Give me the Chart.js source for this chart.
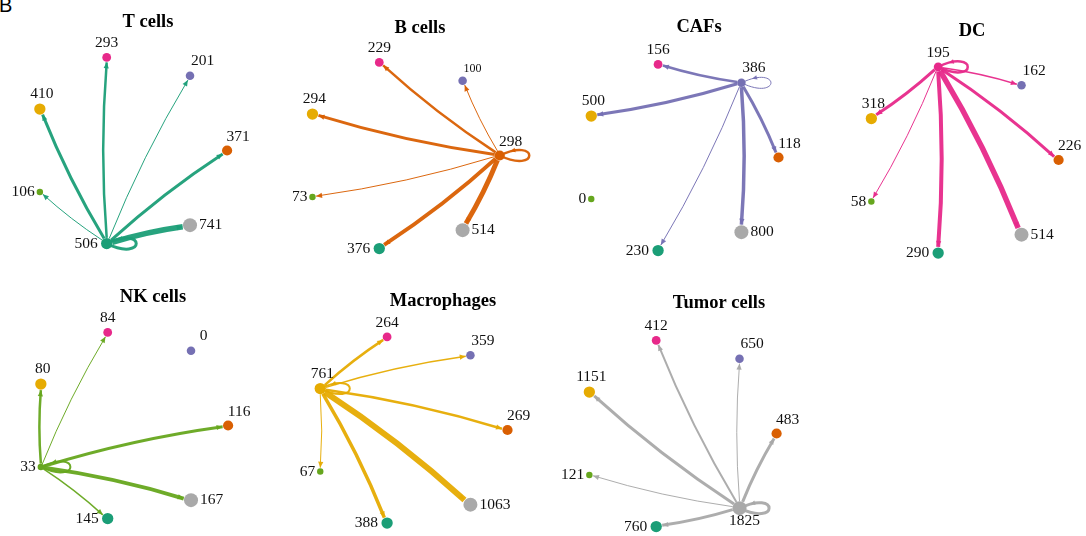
<!DOCTYPE html>
<html>
<head>
<meta charset="utf-8">
<script src="https://cdn.jsdelivr.net/npm/chart.js@4.4.1/dist/chart.umd.min.js"></script>
<style>
  html, body { margin: 0; padding: 0; background: #fff; width: 1086px; height: 536px; overflow: hidden; }
  #fig { position: relative; width: 1086px; height: 536px; overflow: hidden; }
  .panel { position: absolute; }
  .panel canvas { display: block; }
  #tag { position: absolute; left: -1px; top: -5px; font: 20px/1 "Liberation Sans", Arial, sans-serif; color: #000; }
</style>
</head>
<body>
<div id="fig"><div id="tag">B</div></div>
<script>
// Cell groups, in circle order (counter-clockwise from the right)
const cellTypes = ['B cells', 'CAFs', 'DC', 'Macrophages', 'NK cells', 'T cells', 'Tumor cells'];
const typeColors = ['#D95F02', '#7570B3', '#E7298A', '#E6AB02', '#66A61E', '#1B9E77', '#A9A9A9'];
// Relative size of each cell group (sets the node size)
const groupSize = [0.55, 0.35, 0.38, 0.68, 0.10, 0.68, 1.00];

// Panel titles = sending cell group
const panelTitles = ['T cells', 'B cells', 'CAFs', 'DC', 'NK cells', 'Macrophages', 'Tumor cells'];

// Node labels of each panel, in cellTypes order
const labelsT      = [371, 201, 293, 410, 106, 506, 741];
const labelsB      = [298, 100, 229, 294, 73, 376, 514];
const labelsCAFs   = [118, 386, 156, 500, 0, 230, 800];
const labelsDC     = [226, 162, 195, 318, 58, 290, 514];
const labelsNK     = [116, 0, 84, 80, 33, 145, 167];
const labelsMac    = [269, 359, 264, 761, 67, 388, 1063];
const labelsTumor  = [483, 650, 412, 1151, 121, 760, 1825];

// Outgoing interaction strength from the sender to each group (sender's own entry = self loop)
const strengthT     = [3.0, 1.0, 2.5, 3.0, 1.0, 3.0, 5.5];
const strengthB     = [2.5, 1.0, 2.5, 3.0, 1.0, 4.0, 5.0];
const strengthCAFs  = [3.0, 1.0, 2.5, 3.0, 0, 1.0, 3.5];
const strengthDC    = [3.0, 1.5, 2.5, 3.0, 1.0, 4.0, 5.5];
const strengthNK    = [3.0, 0, 1.0, 2.5, 2.0, 1.5, 4.0];
const strengthMac   = [2.5, 1.5, 2.5, 2.0, 1.0, 3.5, 6.0];
const strengthTumor = [3.0, 1.0, 2.0, 3.0, 1.0, 3.0, 3.0];

const panels = [
  { source: 5, labels: labelsT,     strength: strengthT },
  { source: 0, labels: labelsB,     strength: strengthB,    small: [1] },
  { source: 1, labels: labelsCAFs,  strength: strengthCAFs },
  { source: 2, labels: labelsDC,    strength: strengthDC },
  { source: 4, labels: labelsNK,    strength: strengthNK },
  { source: 3, labels: labelsMac,   strength: strengthMac },
  { source: 6, labels: labelsTumor, strength: strengthTumor, below: [6] },
];

// ---- layout / styling ----
const RX = 98.5, RY = 95.5;          // circle radius in px
const PANEL_W = 330;
const TITLE_SIZE = 18.5, TITLE_LH = 1.2;
const CURVE = 0.04;                  // edge bend, as a share of edge length
const panelLayout = [
  { cx: 128.6, cy: 150.5, titleX: 148,   titleY: 22.7,  top: 0,   h: 272 },
  { cx: 401.2, cy: 155.5, titleX: 420,   titleY: 28.7,  top: 0,   h: 272 },
  { cx: 680.0, cy: 157.5, titleX: 699,   titleY: 27.7,  top: 0,   h: 272 },
  { cx: 959.6, cy: 160.0, titleX: 971.5, titleY: 31.0,  top: 0,   h: 272 },
  { cx: 129.6, cy: 425.5, titleX: 153,   titleY: 297.7, top: 272, h: 264 },
  { cx: 409.0, cy: 430.0, titleX: 443,   titleY: 301.7, top: 272, h: 264 },
  { cx: 677.6, cy: 433.5, titleX: 718.5, titleY: 303.3, top: 272, h: 264 },
];
// where each group's number sits relative to its node
const labelPlace = [
  { align: 'center', dx: 11,   dy: -14 },   // B cells
  { align: 'center', dx: 12.5, dy: -14.5 }, // CAFs
  { align: 'center', dx: 0,    dy: -14 },   // DC
  { align: 'center', dx: 2,    dy: -15 },   // Macrophages
  { align: 'right',  dx: -5,   dy: 0 },     // NK cells
  { align: 'right',  dx: -9,   dy: 0 },     // T cells
  { align: 'left',   dx: 9,    dy: 0 },     // Tumor cells
];
const SERIF = '"Liberation Serif", "Times New Roman", serif';
const EDGE_ALPHA = 0.95;

const angle = i => 2 * Math.PI * i / cellTypes.length;
const nodePoints = cellTypes.map((_, i) => ({ x: Math.cos(angle(i)), y: Math.sin(angle(i)) }));
const nodeRadius = groupSize.map(w => 2.8 + 4.2 * w);

function rgba(hex, a) {
  const n = parseInt(hex.slice(1), 16);
  return `rgba(${(n >> 16) & 255},${(n >> 8) & 255},${n & 255},${a})`;
}

function arrowHead(ctx, tip, dir, len, half) {
  const bx = tip.x - dir.x * len, by = tip.y - dir.y * len;
  ctx.beginPath();
  ctx.moveTo(tip.x, tip.y);
  ctx.lineTo(bx - dir.y * half, by + dir.x * half);
  ctx.lineTo(bx + dir.y * half, by - dir.x * half);
  ctx.closePath();
  ctx.fill();
}

function drawEdge(ctx, p0, p2, r0, r1, width, color) {
  const dx = p2.x - p0.x, dy = p2.y - p0.y, L = Math.hypot(dx, dy);
  const ux = dx / L, uy = dy / L;
  const a = { x: p0.x + ux * r0, y: p0.y + uy * r0 };
  const b = { x: p2.x - ux * (r1 + 0.5), y: p2.y - uy * (r1 + 0.5) };
  const ex = b.x - a.x, ey = b.y - a.y;
  const c = { x: (a.x + b.x) / 2 + CURVE * ey, y: (a.y + b.y) / 2 - CURVE * ex };
  ctx.strokeStyle = color;
  ctx.fillStyle = color;
  ctx.lineWidth = width;
  ctx.lineCap = 'butt';
  ctx.beginPath();
  ctx.moveTo(a.x, a.y);
  ctx.quadraticCurveTo(c.x, c.y, b.x, b.y);
  ctx.stroke();
  const dl = Math.hypot(b.x - c.x, b.y - c.y);
  arrowHead(ctx, b, { x: (b.x - c.x) / dl, y: (b.y - c.y) / dl }, 6, 2.6);
}

function drawLoop(ctx, p, rx, ry, r, width, color) {
  const P1 = { x: p.x + 0.4 * rx, y: p.y + 0.2 * ry };
  const P2 = { x: p.x + 0.4 * rx, y: p.y - 0.2 * ry };
  ctx.strokeStyle = color;
  ctx.fillStyle = color;
  ctx.lineWidth = width;
  ctx.beginPath();
  ctx.moveTo(p.x, p.y);
  ctx.bezierCurveTo(P1.x, P1.y, P2.x, P2.y, p.x, p.y);
  ctx.stroke();
  // arrow where the loop comes back into the node
  const t = 0.9, s = 1 - t;
  const pt = {
    x: s*s*s*p.x + 3*s*s*t*P1.x + 3*s*t*t*P2.x + t*t*t*p.x,
    y: s*s*s*p.y + 3*s*s*t*P1.y + 3*s*t*t*P2.y + t*t*t*p.y,
  };
  const d = {
    x: 3*s*s*(P1.x - p.x) + 6*s*t*(P2.x - P1.x) + 3*t*t*(p.x - P2.x),
    y: 3*s*s*(P1.y - p.y) + 6*s*t*(P2.y - P1.y) + 3*t*t*(p.y - P2.y),
  };
  const dl = Math.hypot(d.x, d.y);
  arrowHead(ctx, pt, { x: d.x / dl, y: d.y / dl }, 5, 2.3);
}

const networkPlugin = {
  id: 'network',
  beforeDatasetsDraw(chart, args, opts) {
    const ctx = chart.ctx, xs = chart.scales.x, ys = chart.scales.y;
    const pos = nodePoints.map(p => ({ x: xs.getPixelForValue(p.x), y: ys.getPixelForValue(p.y) }));
    const rx = xs.getPixelForValue(1) - xs.getPixelForValue(0);
    const ry = ys.getPixelForValue(0) - ys.getPixelForValue(1);
    const src = opts.source;
    const color = rgba(typeColors[src], EDGE_ALPHA);
    ctx.save();
    opts.strength.forEach((w, j) => {
      if (!w) return;
      if (j === src) drawLoop(ctx, pos[src], rx, ry, nodeRadius[src], w, color);
      else drawEdge(ctx, pos[src], pos[j], nodeRadius[src], nodeRadius[j], w, color);
    });
    ctx.restore();
  },
  afterDatasetsDraw(chart, args, opts) {
    const ctx = chart.ctx, xs = chart.scales.x, ys = chart.scales.y;
    ctx.save();
    ctx.fillStyle = '#111';
    ctx.textBaseline = 'middle';
    opts.labels.forEach((v, i) => {
      const x = xs.getPixelForValue(nodePoints[i].x), y = ys.getPixelForValue(nodePoints[i].y);
      let place = labelPlace[i];
      let size = 15.5;
      if (opts.below && opts.below.includes(i)) place = { align: 'center', dx: 5, dy: 13 };
      if (opts.small && opts.small.includes(i)) { size = 12; place = { align: 'center', dx: 10, dy: -12 }; }
      ctx.font = `${size}px ${SERIF}`;
      ctx.textAlign = place.align;
      ctx.fillText(String(v), x + place.dx, y + place.dy);
    });
    ctx.restore();
  }
};

const fig = document.getElementById('fig');
panels.forEach((panel, k) => {
  const L = panelLayout[k];
  const left = L.titleX - PANEL_W / 2;
  const lineH = TITLE_SIZE * TITLE_LH;
  const padTop = L.titleY - L.top - lineH / 2;
  const tb = padTop + lineH;
  const div = document.createElement('div');
  div.className = 'panel';
  div.style.left = left + 'px';
  div.style.top = L.top + 'px';
  div.style.width = PANEL_W + 'px';
  div.style.height = L.h + 'px';
  const canvas = document.createElement('canvas');
  canvas.width = PANEL_W;
  canvas.height = L.h;
  div.appendChild(canvas);
  fig.appendChild(div);

  new Chart(canvas, {
    type: 'scatter',
    data: {
      datasets: [{
        data: nodePoints,
        pointRadius: nodeRadius,
        pointHoverRadius: nodeRadius,
        backgroundColor: typeColors,
        borderWidth: 0,
        pointBorderWidth: 0,
      }]
    },
    options: {
      responsive: false,
      animation: false,
      events: [],
      layout: { padding: 0, autoPadding: false },
      scales: {
        x: { type: 'linear', display: false, min: (left - L.cx) / RX, max: (left + PANEL_W - L.cx) / RX },
        y: { type: 'linear', display: false, min: (L.cy - L.top - L.h) / RY, max: (L.cy - L.top - tb) / RY },
      },
      plugins: {
        legend: { display: false },
        tooltip: { enabled: false },
        title: {
          display: true,
          text: panelTitles[k],
          color: '#000',
          font: { family: SERIF, size: TITLE_SIZE, weight: 'bold', lineHeight: TITLE_LH },
          padding: { top: padTop, bottom: 0 },
        },
        network: panel,
      }
    },
    plugins: [networkPlugin]
  });
});
</script>
</body>
</html>
